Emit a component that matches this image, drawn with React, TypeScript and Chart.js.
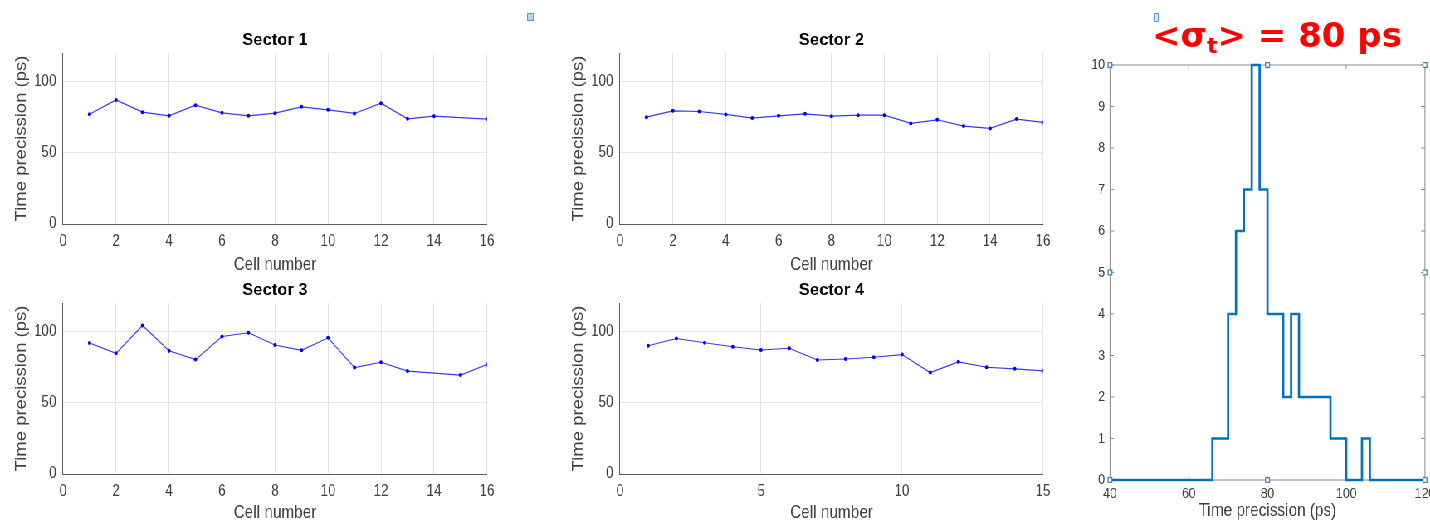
import React, { useEffect, useRef } from "react";
import { Chart, registerables } from "chart.js";

Chart.register(...registerables);

// ---------------- data ----------------
const sector1Cells = [1, 2, 3, 4, 5, 6, 7, 8, 9, 10, 11, 12, 13, 14, 16];
const sector1Values = [77.1, 87.1, 78.5, 75.9, 83.4, 78.0, 75.9, 77.8, 82.2, 80.1, 77.6, 84.8, 73.8, 75.7, 73.6];

const sector2Cells = [1, 2, 3, 4, 5, 6, 7, 8, 9, 10, 11, 12, 13, 14, 15, 16];
const sector2Values = [75.0, 79.4, 79.0, 76.9, 74.3, 75.9, 77.3, 75.7, 76.4, 76.4, 70.6, 73.1, 68.7, 67.1, 73.6, 71.3];

const sector3Cells = [1, 2, 3, 4, 5, 6, 7, 8, 9, 10, 11, 12, 13, 15, 16];
const sector3Values = [91.9, 84.7, 104.2, 86.5, 80.3, 96.5, 99.1, 90.5, 86.8, 95.6, 74.7, 78.4, 72.2, 69.4, 76.8];

const sector4Cells = [1, 2, 3, 4, 5, 6, 7, 8, 9, 10, 11, 12, 13, 14, 15];
const sector4Values = [90.0, 95.1, 92.1, 89.3, 87.0, 88.2, 80.0, 80.7, 81.9, 83.8, 71.2, 78.7, 74.9, 73.8, 72.4];

// histogram of time precision, 2 ps bins from 40 to 120 ps
const histStart = 40;
const histEnd = 120;
const histBinWidth = 2;
const histCounts = [
  0, 0, 0, 0, 0, 0, 0, 0, 0, 0, 0, 0, 0, // 40..64
  1, 1, 4, 6, 7, 10, 7, 4, 4, 2, 4, 2, 2, 2, 2, 1, 1, 0, 0, 1, // 66..104
  0, 0, 0, 0, 0, 0, 0, // 106..118
];

// selection handles of the (selected) histogram axes
const handleX = [40, 80, 120, 40, 120, 40, 80, 120];
const handleY = [0, 0, 0, 5, 5, 10, 10, 10];

const sectorTitles = ["Sector 1", "Sector 2", "Sector 3", "Sector 4"];
const cellAxisTitle = "Cell number";
const precisionAxisTitle = "Time precission (ps)";

// ---------------- layout helpers ----------------
const S = 0.83; // horizontal squeeze of the original picture
const CW = 1760;
const CH = 522;
const X = (v: number) => v / S;

const FONT = '"Liberation Sans", Arial, sans-serif';
const TXT = "#404040";

Chart.defaults.font.family = FONT;
Chart.defaults.color = TXT;

type Box = { L: number; R: number; T: number; B: number; XH: number };

function panelTitlePlugin(text: string) {
  return {
    id: "panelTitle",
    afterDraw(chart: any) {
      const { ctx, chartArea } = chart;
      ctx.save();
      ctx.translate((chartArea.left + chartArea.right) / 2, chartArea.top - 8.5);
      ctx.scale(1 / S, 1);
      ctx.font = `bold 16.5px ${FONT}`;
      ctx.fillStyle = "#000";
      ctx.textAlign = "center";
      ctx.textBaseline = "alphabetic";
      ctx.fillText(text, 0, 0);
      ctx.restore();
    },
  };
}

function sectorConfig(title: string, cells: number[], values: number[], xMax: number, xStep: number, box: Box) {
  const YW = 70;
  return {
    type: "line",
    data: {
      datasets: [
        {
          data: cells.map((c, i) => ({ x: c, y: values[i] })),
          borderColor: "rgba(20,20,255,0.85)",
          borderWidth: 1.1,
          pointRadius: 2,
          pointBackgroundColor: "#0000ff",
          pointBorderWidth: 0,
          tension: 0,
        },
      ],
    },
    options: {
      animation: false,
      responsive: false,
      events: [],
      layout: {
        padding: {
          left: X(box.L) - YW,
          right: CW - X(box.R),
          top: box.T,
          bottom: CH - box.B - box.XH,
        },
      },
      plugins: { legend: { display: false }, tooltip: { enabled: false } },
      scales: {
        x: {
          type: "linear",
          min: 0,
          max: xMax,
          ticks: { stepSize: xStep, padding: 8, font: { size: 16 }, color: TXT, maxRotation: 0, autoSkip: false },
          grid: { color: "#e4e4e4", drawTicks: false },
          border: { color: "#5a5a5a", width: 1 },
          title: { display: true, text: cellAxisTitle, font: { size: 18.5 }, color: TXT, padding: 0 },
          afterFit: (s: any) => {
            s.height = box.XH;
            s.paddingLeft = 0;
            s.paddingRight = 0;
          },
        },
        y: {
          min: 0,
          max: 120,
          ticks: { stepSize: 50, includeBounds: false, padding: 8, font: { size: 16 }, color: TXT },
          grid: { color: "#e4e4e4", drawTicks: false },
          border: { color: "#5a5a5a", width: 1 },
          title: { display: true, text: precisionAxisTitle, font: { size: 18.5 }, color: TXT, padding: { top: 9, bottom: 0 } },
          afterFit: (s: any) => {
            s.width = YW;
          },
        },
      },
    },
    plugins: [panelTitlePlugin(title)],
  };
}

const histBoxPlugin = {
  id: "histBox",
  beforeDatasetsDraw(chart: any) {
    const { ctx, chartArea } = chart;
    const { left, right, top, bottom } = chartArea;
    const xs = chart.scales.x;
    const ys = chart.scales.y;
    ctx.save();
    ctx.strokeStyle = "#8a8a8a";
    ctx.lineWidth = 1;
    ctx.strokeRect(left, top, right - left, bottom - top);
    ctx.beginPath();
    xs.ticks.forEach((t: any) => {
      const p = xs.getPixelForValue(t.value);
      ctx.moveTo(p, bottom);
      ctx.lineTo(p, bottom - 4);
      ctx.moveTo(p, top);
      ctx.lineTo(p, top + 4);
    });
    ys.ticks.forEach((t: any) => {
      const p = ys.getPixelForValue(t.value);
      ctx.moveTo(left, p);
      ctx.lineTo(left + X(4), p);
      ctx.moveTo(right, p);
      ctx.lineTo(right - X(4), p);
    });
    ctx.stroke();
    ctx.restore();
  },
};

function histConfig() {
  const box = { L: 1110, R: 1425, T: 65, B: 480, XH: 42 };
  const YW = 40;
  const stairs = histCounts.map((c, i) => ({ x: histStart + i * histBinWidth, y: c }));
  stairs.push({ x: histEnd, y: histCounts[histCounts.length - 1] });
  return {
    type: "line",
    data: {
      datasets: [
        {
          type: "scatter",
          data: handleX.map((x, i) => ({ x, y: handleY[i] })),
          pointStyle: "rect",
          pointRadius: 3.3,
          borderColor: "#3f86c8",
          backgroundColor: "#ffffff",
          borderWidth: 1.3,
          showLine: false,
          clip: false,
        },
        {
          data: stairs,
          stepped: "before",
          borderColor: "#0072BD",
          borderWidth: 2.7,
          pointRadius: 0,
          fill: false,
          borderJoinStyle: "miter",
          clip: false,
        },
      ],
    },
    options: {
      animation: false,
      responsive: false,
      events: [],
      layout: {
        padding: {
          left: X(box.L) - YW,
          right: CW - X(box.R),
          top: box.T,
          bottom: CH - box.B - box.XH,
        },
      },
      plugins: { legend: { display: false }, tooltip: { enabled: false } },
      scales: {
        x: {
          type: "linear",
          min: 40,
          max: 120,
          ticks: { stepSize: 20, padding: 4.5, font: { size: 15 }, color: TXT, maxRotation: 0, autoSkip: false },
          grid: { display: false, drawTicks: false },
          border: { display: false },
          title: { display: true, text: precisionAxisTitle, font: { size: 18.5 }, color: TXT, padding: 0 },
          afterFit: (s: any) => {
            s.height = box.XH;
            s.paddingLeft = 0;
            s.paddingRight = 0;
          },
        },
        y: {
          min: 0,
          max: 10,
          ticks: { stepSize: 1, padding: 6, font: { size: 15 }, color: TXT },
          grid: { display: false, drawTicks: false },
          border: { display: false },
          afterFit: (s: any) => {
            s.width = YW;
          },
        },
      },
    },
    plugins: [histBoxPlugin],
  };
}

function ChartCanvas({ makeConfig }: { makeConfig: () => any }) {
  const ref = useRef<HTMLCanvasElement | null>(null);
  useEffect(() => {
    if (!ref.current) return;
    const chart = new Chart(ref.current, makeConfig());
    return () => chart.destroy();
  }, []);
  return <canvas ref={ref} width={CW} height={CH} style={{ position: "absolute", left: 0, top: 0, width: CW, height: CH }} />;
}

export default function App() {
  const top: Box = { L: 63, R: 487, T: 53, B: 224, XH: 52 };
  const top2: Box = { L: 620, R: 1043, T: 53, B: 224, XH: 52 };
  const bot: Box = { L: 63, R: 487, T: 303, B: 474, XH: 50 };
  const bot2: Box = { L: 620, R: 1043, T: 303, B: 474, XH: 50 };
  return (
    <div style={{ position: "absolute", left: 0, top: 0, width: 1430, height: 522, overflow: "hidden", background: "#fff" }}>
      <div style={{ position: "absolute", left: 0, top: 0, width: CW, height: CH, transform: `scaleX(${S})`, transformOrigin: "0 0" }}>
        <ChartCanvas makeConfig={() => sectorConfig(sectorTitles[0], sector1Cells, sector1Values, 16, 2, top)} />
        <ChartCanvas makeConfig={() => sectorConfig(sectorTitles[1], sector2Cells, sector2Values, 16, 2, top2)} />
        <ChartCanvas makeConfig={() => sectorConfig(sectorTitles[2], sector3Cells, sector3Values, 16, 2, bot)} />
        <ChartCanvas makeConfig={() => sectorConfig(sectorTitles[3], sector4Cells, sector4Values, 15, 5, bot2)} />
        <ChartCanvas makeConfig={histConfig} />
      </div>
      <div style={{ position: "absolute", left: 527, top: 13, width: 5, height: 6, border: "1px solid #5b9bd5", background: "#b7d3ee" }} />
      <div style={{ position: "absolute", left: 1154, top: 13, width: 3, height: 7, border: "1px solid #5b9bd5", background: "#d6e6f5" }} />
      <div
        style={{
          position: "absolute",
          left: 1152,
          top: 18,
          font: 'bold 34px "DejaVu Sans", sans-serif',
          lineHeight: "34px",
          color: "#ff0000",
          whiteSpace: "nowrap",
        }}
      >
        {"<σ"}
        <span style={{ fontSize: 22, position: "relative", top: 6 }}>t</span>
        {"> = 80 ps"}
      </div>
    </div>
  );
}
